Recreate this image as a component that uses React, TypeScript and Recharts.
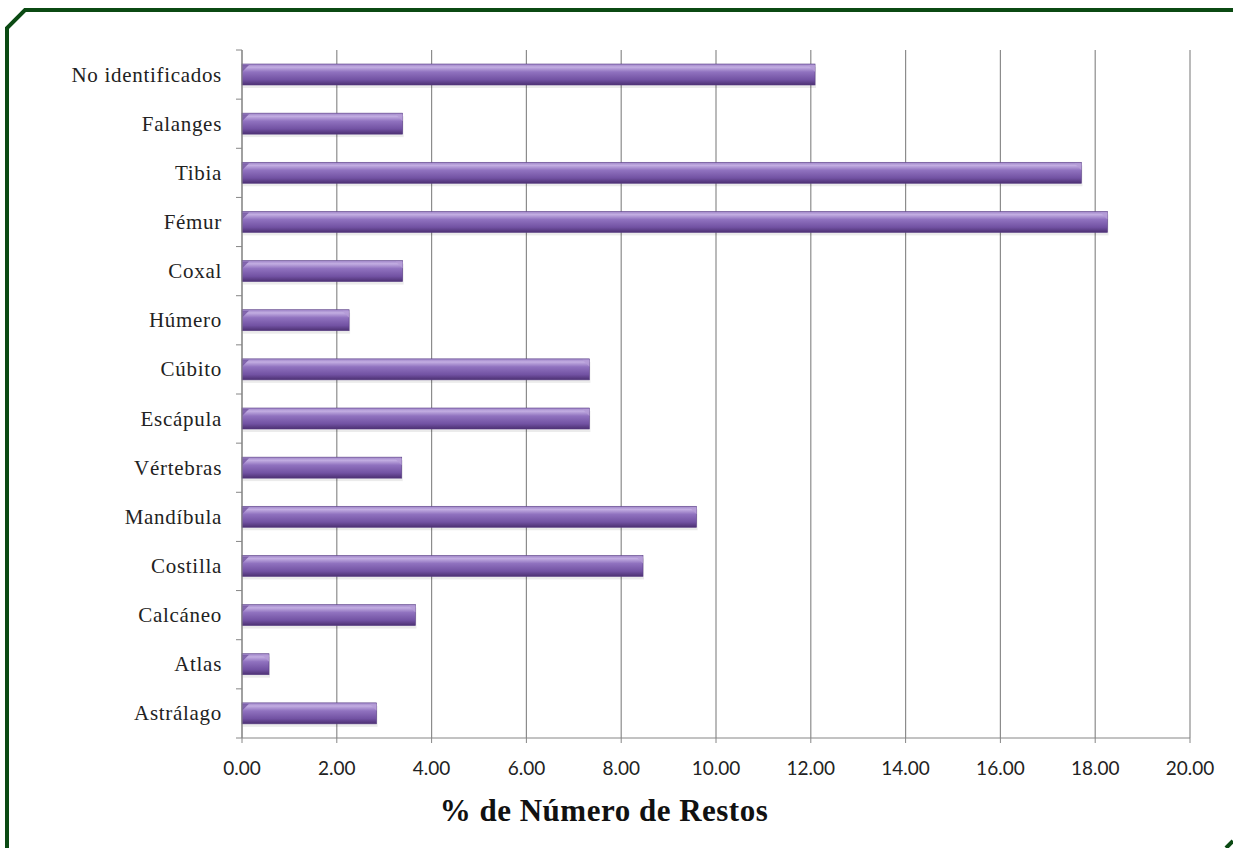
import { Bar, BarChart, CartesianGrid, XAxis, YAxis } from "recharts";

const categories = [
  "No identificados",
  "Falanges",
  "Tibia",
  "Fémur",
  "Coxal",
  "Húmero",
  "Cúbito",
  "Escápula",
  "Vértebras",
  "Mandíbula",
  "Costilla",
  "Calcáneo",
  "Atlas",
  "Astrálago",
];

const percentValues = [12.09, 3.39, 17.71, 18.26, 3.39, 2.26, 7.33, 7.33, 3.37, 9.59, 8.46, 3.66, 0.57, 2.84];

const xTicks = [0, 2, 4, 6, 8, 10, 12, 14, 16, 18, 20];

const axisTitle = "% de Número de Restos";

const W = 1233;
const H = 848;
const margin = { top: 50, right: 43, bottom: 80, left: 0 };
const xAxisHeight = 30;
const yAxisWidth = 242;
const band = (H - margin.top - margin.bottom - xAxisHeight) / categories.length;

const chartData = categories.map((name, i) => ({ name, value: percentValues[i] }));

// category ticks: label + tick marks on the band boundaries (Excel style)
const CategoryTick = (props: any) => {
  const { x, y, payload, index } = props;
  const lineX = x + 14;
  return (
    <g>
      <text
        x={x}
        y={y}
        dy={7}
        textAnchor="end"
        fontFamily="'Liberation Serif', 'Times New Roman', serif"
        fontSize={21}
        letterSpacing={0.7}
        fill="#222"
      >
        {payload.value}
      </text>
      <line x1={lineX} x2={lineX + 6} y1={y - band / 2} y2={y - band / 2} stroke="#868686" />
      {index === categories.length - 1 && (
        <line x1={lineX} x2={lineX + 6} y1={y + band / 2} y2={y + band / 2} stroke="#868686" />
      )}
    </g>
  );
};

const BevelBar = (props: any) => {
  const { x, y, width, height } = props;
  if (!width || width <= 0) return null;
  const c = Math.min(7, width / 2);
  return (
    <g>
      <rect x={x + 1} y={y + 3} width={width} height={height} fill="#000" opacity={0.08} />
      <rect x={x} y={y} width={width} height={height} fill="url(#barGrad)" stroke="#5a3f85" strokeWidth={0.6} />
      <polygon
        points={`${x + width - c},${y + 1} ${x + width},${y + 1} ${x + width},${y + c + 1}`}
        fill="#b49bd6"
        opacity={0.8}
      />
      <polygon points={`${x},${y + 1} ${x + c},${y + 1} ${x},${y + c + 1}`} fill="#6a4a98" opacity={0.7} />
    </g>
  );
};

const App = () => {
  return (
    <div style={{ position: "absolute", left: 0, top: 0, width: W, height: H, background: "#fff", overflow: "hidden" }}>
      <style>{`html, body { margin: 0; overflow: hidden; }`}</style>
      <svg width={W} height={H} style={{ position: "absolute", left: 0, top: 0 }}>
        <polyline points={`7,${H} 7,28 25,10 ${W},10`} fill="none" stroke="#0b4a13" strokeWidth={4} />
        <line x1={W - 7} y1={H} x2={W} y2={H - 7} stroke="#0b4a13" strokeWidth={4} />
      </svg>
      <div style={{ position: "absolute", left: 0, top: 0 }}>
        <BarChart width={W} height={H} data={chartData} layout="vertical" margin={margin}>
          <defs>
            <linearGradient id="barGrad" x1="0" y1="0" x2="0" y2="1">
              <stop offset="0%" stopColor="#9c82c6" />
              <stop offset="15%" stopColor="#c3aee2" />
              <stop offset="38%" stopColor="#9072bf" />
              <stop offset="75%" stopColor="#7252a3" />
              <stop offset="100%" stopColor="#4c3072" />
            </linearGradient>
          </defs>
          <CartesianGrid horizontal={false} stroke="#8c8c8c" strokeWidth={1.2} />
          <XAxis
            type="number"
            domain={[0, 20]}
            ticks={xTicks}
            height={xAxisHeight}
            tickFormatter={(v: number) => v.toFixed(2)}
            tick={{ fontFamily: "Lato, 'Open Sans', sans-serif", fontSize: 19, fill: "#222" }}
            tickSize={5}
            tickMargin={19}
            axisLine={{ stroke: "#868686" }}
            tickLine={{ stroke: "#868686" }}
            label={{
              value: axisTitle,
              position: "bottom",
              offset: 31,
              dx: -112,
              style: {
                fontFamily: "'Liberation Serif', 'Times New Roman', serif",
                fontSize: 31,
                letterSpacing: 0.5,
                fontWeight: "bold",
                fill: "#111",
              },
            }}
          />
          <YAxis
            type="category"
            dataKey="name"
            width={yAxisWidth}
            tick={<CategoryTick />}
            tickLine={false}
            tickSize={6}
            tickMargin={14}
            axisLine={{ stroke: "#868686" }}
            interval={0}
          />
          <Bar dataKey="value" barSize={21} shape={<BevelBar />} isAnimationActive={false} />
        </BarChart>
      </div>
    </div>
  );
};

export default App;
